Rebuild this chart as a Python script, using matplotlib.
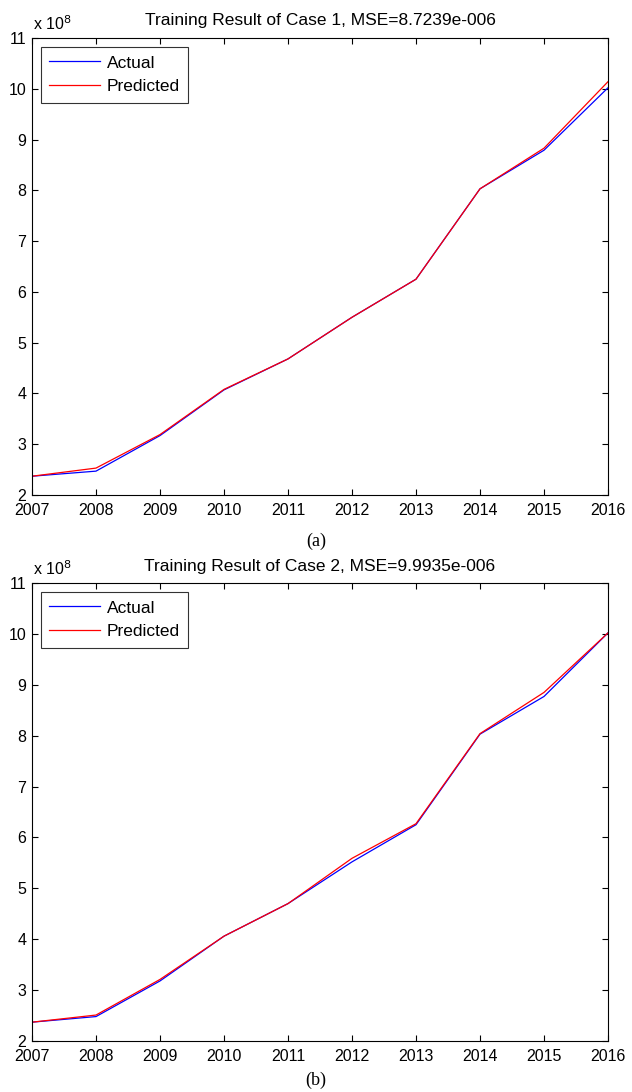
import matplotlib
matplotlib.use('Agg')
import matplotlib.pyplot as plt

years = [2007, 2008, 2009, 2010, 2011, 2012, 2013, 2014, 2015, 2016]

# case 1 (values x 1e8)
actual_1 = [2.37, 2.47, 3.17, 4.07, 4.68, 5.50, 6.25, 8.03, 8.79, 10.02]
predicted_1 = [2.37, 2.53, 3.19, 4.08, 4.68, 5.50, 6.25, 8.03, 8.83, 10.14]

# case 2 (values x 1e8)
actual_2 = [2.37, 2.48, 3.18, 4.06, 4.70, 5.52, 6.25, 8.03, 8.77, 10.02]
predicted_2 = [2.37, 2.51, 3.21, 4.06, 4.70, 5.59, 6.27, 8.04, 8.85, 10.02]

titles = ["Training Result of Case 1, MSE=8.7239e-006",
          "Training Result of Case 2, MSE=9.9935e-006"]
captions = ["(a)", "(b)"]

W, H = 632, 1092
fig = plt.figure(figsize=(W / 100, H / 100), dpi=100)

sans = 'Liberation Sans'
serif = 'Liberation Serif'

# axes boxes in pixels: left, top, right, bottom
boxes = [(32, 38, 608, 495), (32, 583, 608, 1041)]
caption_y = [541, 1080]
data = [(actual_1, predicted_1), (actual_2, predicted_2)]

for i in range(2):
    l, t, r, b = boxes[i]
    ax = fig.add_axes([l / W, 1 - b / H, (r - l) / W, (b - t) / H])
    act, pred = data[i]
    ax.plot(years, act, color=(0, 0, 1), lw=0.9, label="Actual")
    ax.plot(years, pred, color=(1, 0, 0), lw=0.9, label="Predicted")
    ax.set_xlim(2007, 2016)
    ax.set_ylim(2, 11)
    ax.set_xticks(years)
    ax.set_yticks(range(2, 12))
    ax.tick_params(direction='in', top=True, right=True, length=4,
                   width=0.8, labelsize=11.5)
    ax.tick_params(axis='x', pad=5.5)
    ax.tick_params(axis='y', pad=4)
    for lab in ax.get_xticklabels() + ax.get_yticklabels():
        lab.set_fontfamily(sans)
    for s in ax.spines.values():
        s.set_linewidth(0.8)
    ax.set_title(titles[i], fontsize=12.5, family=sans, pad=9)
    ax.text(0.001, 1.012, r'x 10$^{8}$', transform=ax.transAxes,
            fontsize=11.5, family=sans, ha='left', va='bottom')
    leg = ax.legend(loc='upper left', frameon=True, fancybox=False,
                    edgecolor='black', borderpad=0.5, handlelength=2.9,
                    handletextpad=0.4, labelspacing=0.5,
                    borderaxespad=0.5, prop={'family': sans, 'size': 12.5})
    leg.get_frame().set_linewidth(0.8)
    fig.text(0.5, 1 - caption_y[i] / H, captions[i], ha='center',
             va='center', fontsize=13, family=serif)

fig.savefig("out.png", dpi=100)
